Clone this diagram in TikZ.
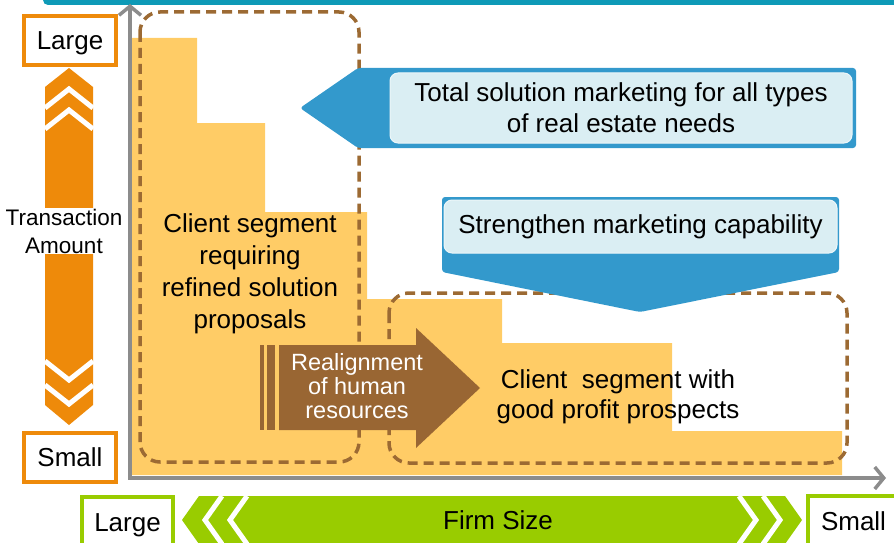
\documentclass[tikz,border=0pt]{standalone}
\usepackage{fontspec}
\setmainfont{Liberation Sans}
\usetikzlibrary{arrows.meta,positioning,calc}
\definecolor{stair}{HTML}{FFCC66}
\definecolor{axisgray}{HTML}{8C8C8C}
\definecolor{segline}{HTML}{9C6A33}
\definecolor{callout}{HTML}{3399CC}
\definecolor{calloutfill}{HTML}{DAEEF3}
\definecolor{amount}{HTML}{EE8A0A}
\definecolor{firm}{HTML}{99CC00}
\definecolor{topbar}{HTML}{0E9AB7}
\definecolor{realign}{HTML}{996633}
\tikzset{
	segbox/.style={draw=segline, line width=3.5pt, dash pattern=on 10pt off 6pt, rounded corners=20pt},
	calloutbox/.style={fill=calloutfill, draw=calloutfill!50!white, line width=1pt, rounded corners=8pt, align=center, inner sep=0pt},
	amountbox/.style={draw=amount, line width=3.5pt, fill=white, minimum width=92pt, minimum height=49pt, inner sep=0pt, text height=18.6pt, text depth=0pt},
	firmbox/.style={draw=firm, line width=3.5pt, fill=white, minimum width=91pt, minimum height=51pt, inner sep=0pt, text height=18.6pt, text depth=0pt},
	chevron/.style={white, line width=5pt}
}

\begin{document}
\begin{tikzpicture}[x=1pt, y=-1pt, font=\fontsize{26}{31}\selectfont]
			\useasboundingbox (0,0) rectangle (894,543);
			\clip (0,0) rectangle (894,543);
			\fill[topbar, rounded corners=5pt] (43,-10) rectangle (900,5);

			% staircase of client segments
			\fill[stair] (132,475) |- (197,38) |- (265,123) |- (367,212) |- (502,299) |- (672,343) |- (842,431) -- (842,475) -- cycle;

			% axes
			\coordinate (ytop) at (130,4);
			\coordinate (origin) at (130,478);
			\coordinate (xend) at (886,478);
			\draw[axisgray, line width=3.5pt, {Straight Barb[length=9pt, width=22pt]}-{Straight Barb[length=9pt, width=22pt]}]
			(ytop) -- (origin) -- (xend);

			% segments
			\draw[segbox] (140,12) rectangle (359,462);
			\draw[segbox] (389,293) rectangle (847,463);
			\node[align=center, font=\fontsize{26}{32}\selectfont] (refined) at (250,274)
			{Client segment\\requiring\\refined solution\\proposals};
			\node[align=center, font=\fontsize{26}{30}\selectfont] (profit) at (618,397)
			{Client\ \ segment with\\good profit prospects};

			% callouts
			\fill[callout, rounded corners=3pt] (300,108) -- (358,68) -- (856,68) -- (856,148) -- (358,148) -- cycle;
			\node[calloutbox, minimum width=462pt, minimum height=70pt] (total) at (621,108)
			{Total solution marketing for all types\\of real estate needs};
			\fill[callout, rounded corners=3pt] (442,197) -- (839,197) -- (839,272) -- (640,312) -- (442,272) -- cycle;
			\node[calloutbox, minimum width=393pt, minimum height=53pt] (strengthen) at (640.5,226.5)
			{Strengthen marketing capability};

			% realignment arrow
			\fill[realign] (260,345) rectangle (264,430);
			\fill[realign] (267,345) rectangle (275,430);
			\fill[realign] (279,345) -- (416,345) -- (416,328) -- (480,388) -- (416,448) -- (416,430) -- (279,430) -- cycle;
			\node[text=white, align=center, font=\fontsize{23.5}{24}\selectfont] (realigntxt) at (357,386)
			{Realignment\\of human\\resources};

			% transaction amount
			\fill[amount] (69,68) -- (93,87) -- (93,405) -- (69,425) -- (45,405) -- (45,87) -- cycle;
			\draw[chevron] (45,108) -- (69,89) -- (93,108);
			\draw[chevron] (45,129) -- (69,110) -- (93,129);
			\draw[chevron] (45,361) -- (69,380) -- (93,361);
			\draw[chevron] (45,385) -- (69,404) -- (93,385);
			\node[fill=white, align=center, inner sep=1pt, font=\fontsize{22.5}{28}\selectfont] (amount) at (64,231)
			{Transaction\\Amount};
			\node[amountbox] (amtlarge) at (70,40.5) {Large};
			\node[amountbox] (amtsmall) at (70,457.5) {Small};

			% firm size
			\fill[firm] (182,520) -- (199,496) -- (785,496) -- (802,520) -- (785,544) -- (199,544) -- cycle;
			\draw[chevron] (222,496) -- (205,520) -- (222,544);
			\draw[chevron] (247,496) -- (230,520) -- (247,544);
			\draw[chevron] (739,496) -- (756,520) -- (739,544);
			\draw[chevron] (763,496) -- (780,520) -- (763,544);
			\node (firmsize) at (498,520) {Firm Size};
			\node[firmbox] (firmlarge) at (127.5,522.5) {Large};
			\node[firmbox] (firmsmall) at (853.5,521.5) {Small};
		\end{tikzpicture}
\end{document}
